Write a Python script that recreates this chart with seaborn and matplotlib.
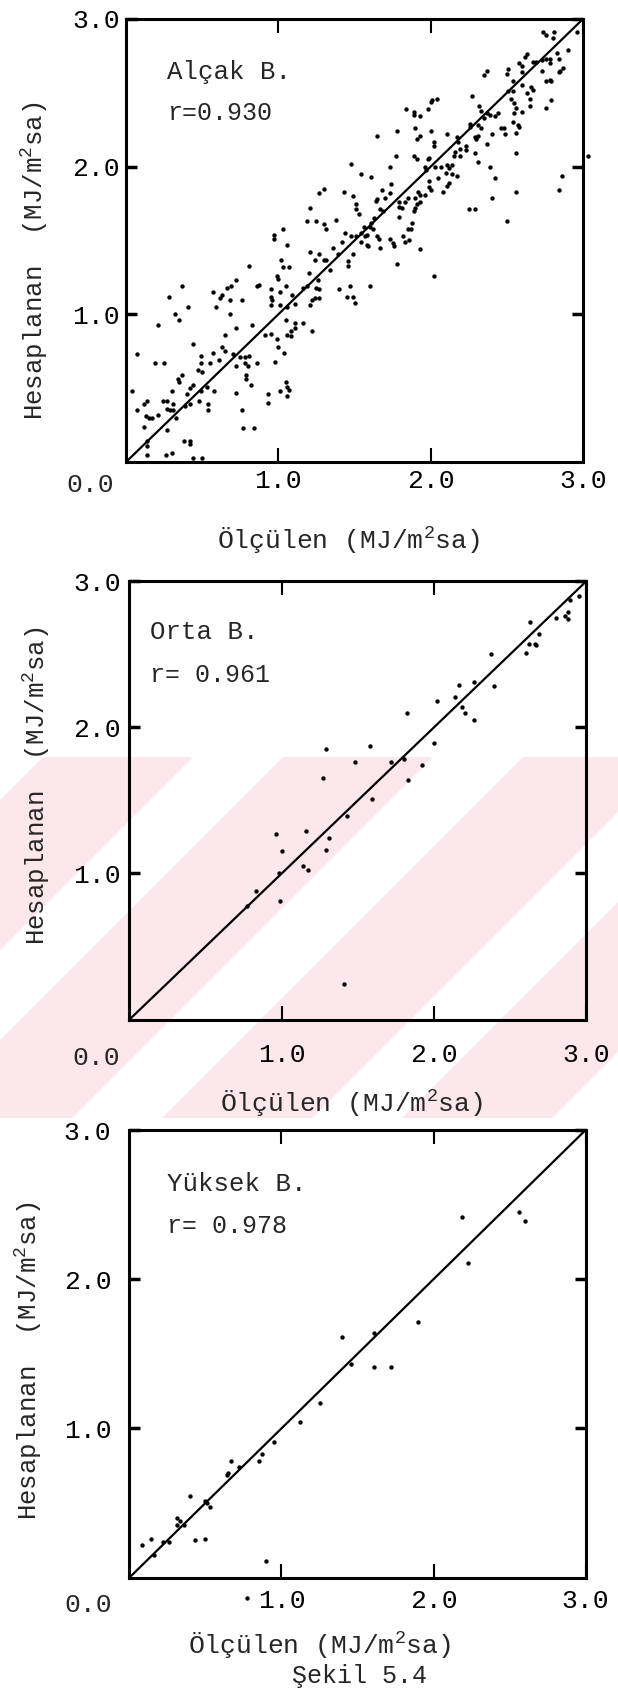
import matplotlib
matplotlib.use("Agg")
import matplotlib.pyplot as plt
from matplotlib.patches import Polygon, Rectangle
import seaborn as sns
import pandas as pd

# ---------------- data ----------------
alcak_x = [0.97,1.06,0.81,1.02,1.03,1.07,1.21,1.24,1.27,1.30,1.31,1.36,1.39,1.42,1.49,1.46,1.46,1.34,1.20,1.26,
           0.99,1.00,0.86,0.87,0.37,0.28,0.57,0.62,0.63,0.66,0.69,0.72,0.68,0.76,0.59,0.41,0.32,0.35,0.68,0.21,
           0.72,0.83,0.95,0.95,0.96,1.01,1.05,1.09,1.11,0.95,1.01,1.06,1.16,1.19,1.21,1.22,1.24,1.27,1.25,1.27,
           1.40,1.47,1.45,1.49,1.50,1.05,1.11,1.16,1.11,1.08,1.06,1.08,1.22,0.91,0.95,0.99,1.00,1.04,0.65,0.44,
           0.63,0.65,0.57,0.49,0.07,0.19,0.25,0.49,0.55,0.61,0.70,0.72,0.75,0.78,0.81,0.78,0.80,0.86,0.98,0.47,
           0.50,0.37,0.34,0.35,0.44,0.42,0.49,0.53,0.58,0.79,0.79,0.82,0.72,0.04,0.30,0.40,0.48,0.54,0.54,0.42,
           0.39,0.14,0.12,0.07,0.13,0.15,0.17,0.21,0.24,0.27,0.27,0.29,0.31,0.33,0.31,0.27,0.12,0.14,0.14,0.38,
           0.42,0.42,0.26,0.30,0.14,0.44,0.50,0.77,0.84,0.76,0.93,0.93,1.01,1.05,1.06,1.07,1.06,
           1.48,1.51,1.54,1.57,1.58,1.59,1.65,1.66,1.67,1.73,1.75,1.76,1.82,1.83,1.86,1.93,1.78,2.02,1.60,
           2.74,2.76,2.80,2.81,2.90,2.96,2.63,2.62,2.58,2.60,2.67,2.69,2.73,2.76,2.78,2.83,2.84,2.78,2.73,2.84,
           2.85,2.87,2.78,2.76,2.79,2.37,2.35,2.50,2.51,2.60,2.54,2.60,2.63,2.66,2.67,2.65,2.53,2.55,2.54,2.51,
           2.56,2.60,2.55,2.65,2.79,2.76,2.27,2.04,2.01,2.00,1.84,1.89,1.89,1.93,1.98,2.32,2.33,2.37,2.39,2.44,
           2.42,2.35,2.26,2.26,2.31,2.33,2.31,2.30,2.29,2.40,2.46,2.48,2.49,2.54,2.57,2.58,2.56,2.11,2.17,2.18,
           2.19,2.16,2.15,2.19,2.23,2.23,2.29,2.31,2.37,2.39,2.42,2.56,2.56,2.40,2.50,2.25,2.29,2.02,2.02,2.00,
           1.90,1.91,1.93,1.89,1.91,1.98,1.99,1.96,1.97,2.03,2.07,2.11,2.10,2.12,2.14,2.14,2.17,2.12,2.11,2.05,
           2.08,1.99,1.99,2.00,1.96,1.92,1.93,1.90,1.91,1.93,1.90,1.89,1.85,1.83,1.81,1.79,1.79,1.77,1.73,1.78,
           1.65,1.61,1.54,1.49,1.51,1.51,1.53,1.68,1.74,1.73,1.70,1.65,1.64,1.67,1.69,1.63,1.61,1.60,1.56,1.54,
           1.58,1.62,1.79,1.88,1.87,1.85,1.48,2.86,2.84,3.03,
           1.30,1.27,1.43,1.21,1.38,1.19,1.25,1.30,1.31,1.03,0.97,1.44]
alcak_y = [1.51,1.47,1.33,1.37,1.32,1.32,1.42,1.37,1.41,1.37,1.37,1.45,1.41,1.49,1.41,1.36,1.33,1.30,1.28,1.23,
           1.26,1.24,1.19,1.20,1.19,1.12,1.15,1.11,1.13,1.18,1.19,1.23,1.10,1.10,1.05,1.05,1.00,0.96,1.00,0.93,
           0.91,0.93,1.17,1.12,1.10,1.15,1.19,1.13,1.07,1.06,1.06,1.05,1.18,1.19,1.06,1.10,1.11,1.11,1.18,1.17,
           1.17,1.19,1.12,1.12,1.08,0.96,0.94,0.94,0.91,0.89,0.86,0.85,0.89,0.86,0.87,0.83,0.78,0.74,0.86,0.80,
           0.78,0.75,0.74,0.72,0.73,0.67,0.67,0.67,0.67,0.69,0.73,0.65,0.71,0.71,0.72,0.67,0.65,0.67,0.68,0.62,
           0.61,0.59,0.56,0.54,0.52,0.50,0.48,0.51,0.48,0.59,0.56,0.52,0.47,0.48,0.48,0.46,0.41,0.39,0.35,0.39,
           0.38,0.41,0.39,0.35,0.31,0.30,0.30,0.32,0.41,0.41,0.36,0.35,0.35,0.30,0.39,0.22,0.24,0.14,0.11,0.14,
           0.14,0.12,0.05,0.06,0.05,0.03,0.03,0.23,0.23,0.35,0.40,0.46,0.48,0.54,0.51,0.49,0.45,
           1.53,1.53,1.49,1.53,1.47,1.46,1.53,1.51,1.45,1.51,1.48,1.46,1.53,1.49,1.50,1.44,1.34,1.26,1.19,
           2.91,2.89,2.87,2.91,2.79,2.91,2.76,2.74,2.70,2.68,2.71,2.71,2.72,2.73,2.73,2.77,2.73,2.70,2.65,2.64,
           2.65,2.67,2.59,2.58,2.58,2.65,2.62,2.63,2.66,2.64,2.58,2.55,2.50,2.54,2.52,2.46,2.46,2.43,2.51,2.51,
           2.40,2.37,2.36,2.41,2.45,2.40,2.48,2.46,2.45,2.44,2.39,2.37,2.35,2.34,2.39,2.41,2.38,2.36,2.35,2.36,
           2.34,2.33,2.29,2.27,2.28,2.26,2.21,2.19,2.20,2.22,2.26,2.26,2.22,2.30,2.28,2.27,2.23,2.22,2.20,2.17,
           2.12,2.10,2.07,2.07,2.11,2.14,2.09,2.03,2.15,2.00,1.92,2.09,1.83,1.79,1.63,1.71,1.71,2.14,2.17,2.24,
           2.26,2.19,2.21,2.07,2.05,2.05,2.06,2.00,1.98,2.00,2.00,2.01,1.96,1.99,2.01,1.95,1.94,1.89,1.87,1.92,
           1.83,1.90,1.86,1.84,1.81,1.83,1.81,1.79,1.75,1.76,1.72,1.70,1.79,1.76,1.72,1.73,1.76,2.07,2.00,2.24,
           2.21,1.93,1.95,1.80,1.75,1.71,1.68,1.84,1.88,1.82,1.79,1.78,1.77,1.71,1.70,1.65,1.62,1.59,1.59,1.55,
           1.54,1.58,1.66,1.62,1.58,1.58,2.02,1.94,1.84,2.07,
           1.85,1.82,1.83,1.72,1.64,1.63,1.63,1.61,1.58,1.58,1.54,1.55]

orta_x = [1.29,1.48,1.27,1.43,1.16,0.96,1.31,1.00,1.29,0.98,1.14,1.17,0.83,0.77,0.99,1.41,
          2.95,2.89,2.88,2.86,2.88,2.80,2.63,2.69,2.62,2.66,2.67,2.60,2.37,2.39,2.26,2.16,2.14,2.18,
          2.20,2.26,2.02,1.82,2.00,1.58,1.72,1.80,1.92,1.83,1.59]
orta_y = [1.85,1.76,1.65,1.39,1.29,1.27,1.24,1.15,1.16,1.00,1.05,1.02,0.88,0.78,0.81,0.24,
          2.90,2.87,2.79,2.76,2.74,2.75,2.72,2.64,2.57,2.57,2.56,2.51,2.50,2.28,2.31,2.29,2.21,2.14,
          2.10,2.05,2.18,2.10,1.89,1.87,1.76,1.78,1.74,1.64,1.51]

yuksek_x = [1.40,1.46,1.25,1.12,0.95,0.87,0.85,0.67,0.72,0.64,0.65,0.40,0.50,0.51,0.53,0.31,0.33,0.31,
            0.36,0.43,0.50,0.08,0.14,0.16,0.22,0.26,0.90,0.77,2.19,2.56,2.60,2.23,1.90,1.61,1.61,1.72]
yuksek_y = [1.61,1.43,1.17,1.04,0.91,0.83,0.78,0.78,0.74,0.69,0.70,0.55,0.51,0.50,0.47,0.40,0.38,0.35,
            0.35,0.25,0.26,0.22,0.26,0.15,0.24,0.24,0.11,-0.14,2.42,2.45,2.39,2.11,1.71,1.64,1.41,1.41]

panel_names = ["Alçak B.", "Orta B.", "Yüksek B."]
r_labels = ["r=0.930", "r= 0.961", "r= 0.978"]
diag = [0.0, 3.0]
tick_vals = [1.0, 2.0, 3.0]
tick_labels = ["1.0", "2.0", "3.0"]
caption = "Şekil 5.4"
xlabel = r"Ölçülen (MJ/$\mathregular{m^2}$sa)"
ylabel = r"Hesaplanan  (MJ/$\mathregular{m^2}$sa)"

# ---------------- style ----------------
sns.set_theme(style="white")
plt.rcParams["font.family"] = ["Liberation Mono", "DejaVu Sans Mono"]
plt.rcParams["mathtext.fontset"] = "custom"
plt.rcParams["mathtext.rm"] = "Liberation Mono"
plt.rcParams["axes.unicode_minus"] = False

W, H = 618, 1693
fig = plt.figure(figsize=(W / 100, H / 100), dpi=100)
fig.patch.set_facecolor("white")

# faint pink scan watermark band (decoration behind the middle panel)
pink = "#fce8ec"
band_top, band_bot = H - 757, H - 1118
clip = Rectangle((0, band_bot), W, band_top - band_bot, transform=None, facecolor="none",
                 edgecolor="none")
fig.patches.append(clip)
for c1 in range(560, 1900, 240):
    c2 = c1 + 150
    poly = Polygon([(c1 - 1118, band_bot), (c2 - 1118, band_bot), (c2 - 757, band_top),
                    (c1 - 757, band_top)], closed=True, transform=None,
                   facecolor=pink, edgecolor="none", zorder=-10)
    poly.set_clip_path(clip)
    fig.patches.append(poly)

layout = [
    dict(rect=[0.2039, 0.7271, 0.7395, 0.2617], ypad=4.5, xpad=5, zero=(-36, -23),
         ylab=(-0.201, 0.454), xlab=(0.486, -0.178), txt=(0.267, 2.64, 2.36)),
    dict(rect=[0.2095, 0.3978, 0.7395, 0.2590], ypad=6, xpad=17, zero=(-33, -38),
         ylab=(-0.204, 0.532), xlab=(0.485, -0.191), txt=(0.137, 2.65, 2.36)),
    dict(rect=[0.2095, 0.0682, 0.7380, 0.2643], ypad=13, xpad=8, zero=(-41, -27),
         ylab=(-0.221, 0.485), xlab=(0.417, -0.152), txt=(0.245, 2.64, 2.36)),
]
datasets = [(alcak_x, alcak_y), (orta_x, orta_y), (yuksek_x, yuksek_y)]

for i, (lay, (xs, ys)) in enumerate(zip(layout, datasets)):
    ax = fig.add_axes(lay["rect"])
    ax.set_facecolor("none")
    df = pd.DataFrame({"x": xs, "y": ys})
    sns.scatterplot(data=df, x="x", y="y", ax=ax, color="black", s=10,
                    linewidth=0, clip_on=False, legend=False)
    sns.lineplot(x=diag, y=diag, ax=ax, color="black", linewidth=1.6)
    ax.set_xlim(0, 3)
    ax.set_ylim(0, 3)
    for sp in ax.spines.values():
        sp.set_visible(True)
        sp.set_color("black")
        sp.set_linewidth(2.2)
    ax.set_xticks(tick_vals)
    ax.set_xticklabels(tick_labels)
    ax.set_yticks(tick_vals)
    ax.set_yticklabels(tick_labels)
    ax.tick_params(axis="x", direction="in", length=10, width=1.5, top=True, bottom=True,
                   labelsize=19, pad=lay["xpad"], colors="black")
    ax.tick_params(axis="y", direction="in", length=8, width=2.5, left=True, right=True,
                   labelsize=19, pad=lay["ypad"], colors="black")
    ax.annotate("0.0", xy=(0, 0), xytext=lay["zero"], textcoords="offset pixels",
                ha="center", va="center", fontsize=19, annotation_clip=False)
    ax.set_xlabel(xlabel, fontsize=19, ha="center", va="center")
    ax.xaxis.set_label_coords(*lay["xlab"])
    ax.set_ylabel(ylabel, fontsize=18.5, rotation=90, ha="center", va="center")
    ax.yaxis.set_label_coords(*lay["ylab"])
    tx, ty1, ty2 = lay["txt"]
    ax.text(tx, ty1, panel_names[i], fontsize=18.5, ha="left", va="center")
    ax.text(tx, ty2, r_labels[i], fontsize=18, ha="left", va="center")

fig.text(360 / W, 1 - 1676 / H, caption, fontsize=18, ha="center", va="center")

fig.savefig("out.png", dpi=100, facecolor="white")
